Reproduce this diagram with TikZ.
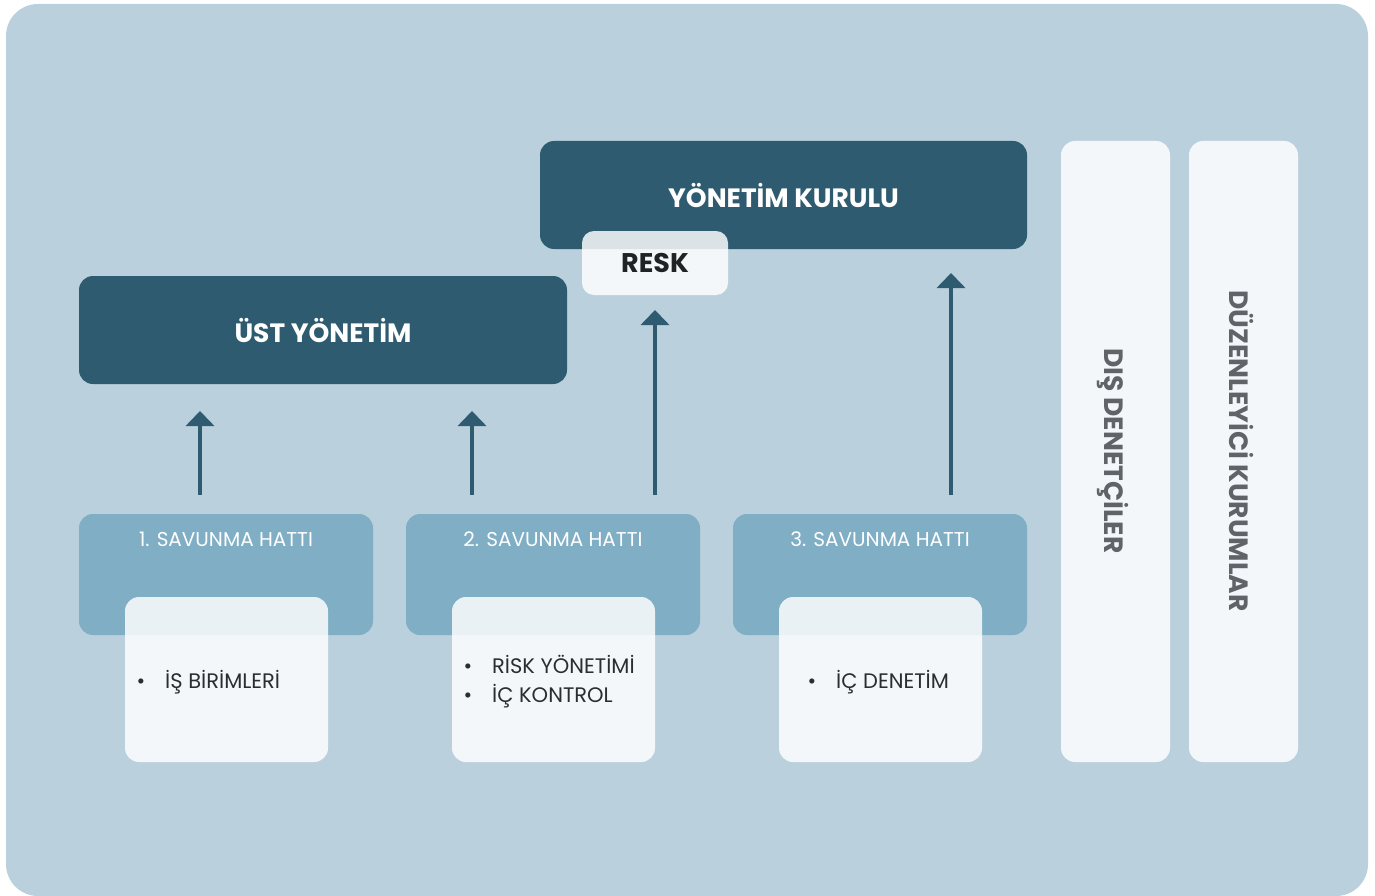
\documentclass[tikz,border=0pt]{standalone}
\usepackage{fontspec}
\setmainfont{Poppins}
\usetikzlibrary{arrows.meta}
\definecolor{bgblue}{HTML}{BAD0DC}
\definecolor{darkteal}{HTML}{2E5B70}
\definecolor{lineblue}{HTML}{7FAEC5}
\definecolor{sidegray}{HTML}{5F6468}
\definecolor{resktext}{HTML}{1F2326}
\definecolor{itemtext}{HTML}{2A2E31}

\begin{document}
\begin{tikzpicture}[x=1pt,y=-1pt]
        \tikzset{mgmt/.style={fill=darkteal,rounded corners=14pt,text=white,
                font=\bfseries\fontsize{26.5}{30}\selectfont,minimum height=108pt},
            defense/.style={fill=lineblue,rounded corners=14pt,minimum width=294pt,
                minimum height=121pt},
            deftext/.style={text=white,font=\fontsize{20}{22}\selectfont},
            itembox/.style={fill=white,fill opacity=0.83,rounded corners=14pt,
                minimum width=203pt,minimum height=165pt},
            items/.style={text=itemtext,font=\fontsize{21}{29}\selectfont,align=left,anchor=west},
            sidebox/.style={fill=white,fill opacity=0.83,rounded corners=14pt,
                minimum width=109pt,minimum height=621pt},
            sidetext/.style={text=sidegray,font=\bfseries\fontsize{26.5}{28}\selectfont,rotate=-90},
            uparrow/.style={draw=darkteal,line width=3.5pt,-{Triangle[width=28pt,length=15pt]}}}
        \useasboundingbox (0,0) rectangle (1375,896);
        \fill[bgblue,rounded corners=32pt] (6,4) rectangle (1368,896);
        % management
        \node[mgmt,minimum width=487pt] (board) at (783.5,195) {YÖNETİM KURULU};
        \node[mgmt,minimum width=488pt] (senior) at (323,330) {ÜST YÖNETİM};
        \node[fill=white,fill opacity=0.83,rounded corners=12pt,minimum width=146pt,
            minimum height=64pt] (resk) at (655,263) {};
        \node[text=resktext,font=\bfseries\fontsize{27}{30}\selectfont] at (resk) {RESK};
        % lines of defense
        \node[defense] (def1) at (226,574.5) {};
        \node[defense] (def2) at (553,574.5) {};
        \node[defense] (def3) at (880,574.5) {};
        \node[deftext] at (226,539) {1. SAVUNMA HATTI};
        \node[deftext] at (553,539) {2. SAVUNMA HATTI};
        \node[deftext] at (880,539) {3. SAVUNMA HATTI};
        \node[itembox] (box1) at (226.5,679.5) {};
        \node[itembox] (box2) at (553.5,679.5) {};
        \node[itembox] (box3) at (880.5,679.5) {};
        \node[items] at (133,682) {\textbullet\hspace{20pt}İŞ BİRİMLERİ};
        \node[items] at (460,682) {\textbullet\hspace{20pt}RİSK YÖNETİMİ\\\textbullet\hspace{20pt}İÇ KONTROL};
        \node[items] at (804,682) {\textbullet\hspace{20pt}İÇ DENETİM};
        % outside parties
        \node[sidebox] (audit) at (1115.5,451.5) {};
        \node[sidebox] (reg) at (1243.5,451.5) {};
        \node[sidetext] at (1113,451) {DIŞ DENETÇİLER};
        \node[sidetext] at (1241,451) {DÜZENLEYİCİ KURUMLAR};
        % arrows
        \coordinate (a1s) at (200,495); \coordinate (a1e) at (200,411);
        \coordinate (a2s) at (472,495); \coordinate (a2e) at (472,411);
        \coordinate (a3s) at (655,495); \coordinate (a3e) at (655,310);
        \coordinate (a4s) at (951,495); \coordinate (a4e) at (951,273);
        \draw[uparrow] (a1s) -- (a1e);
        \draw[uparrow] (a2s) -- (a2e);
        \draw[uparrow] (a3s) -- (a3e);
        \draw[uparrow] (a4s) -- (a4e);
    \end{tikzpicture}
\end{document}
